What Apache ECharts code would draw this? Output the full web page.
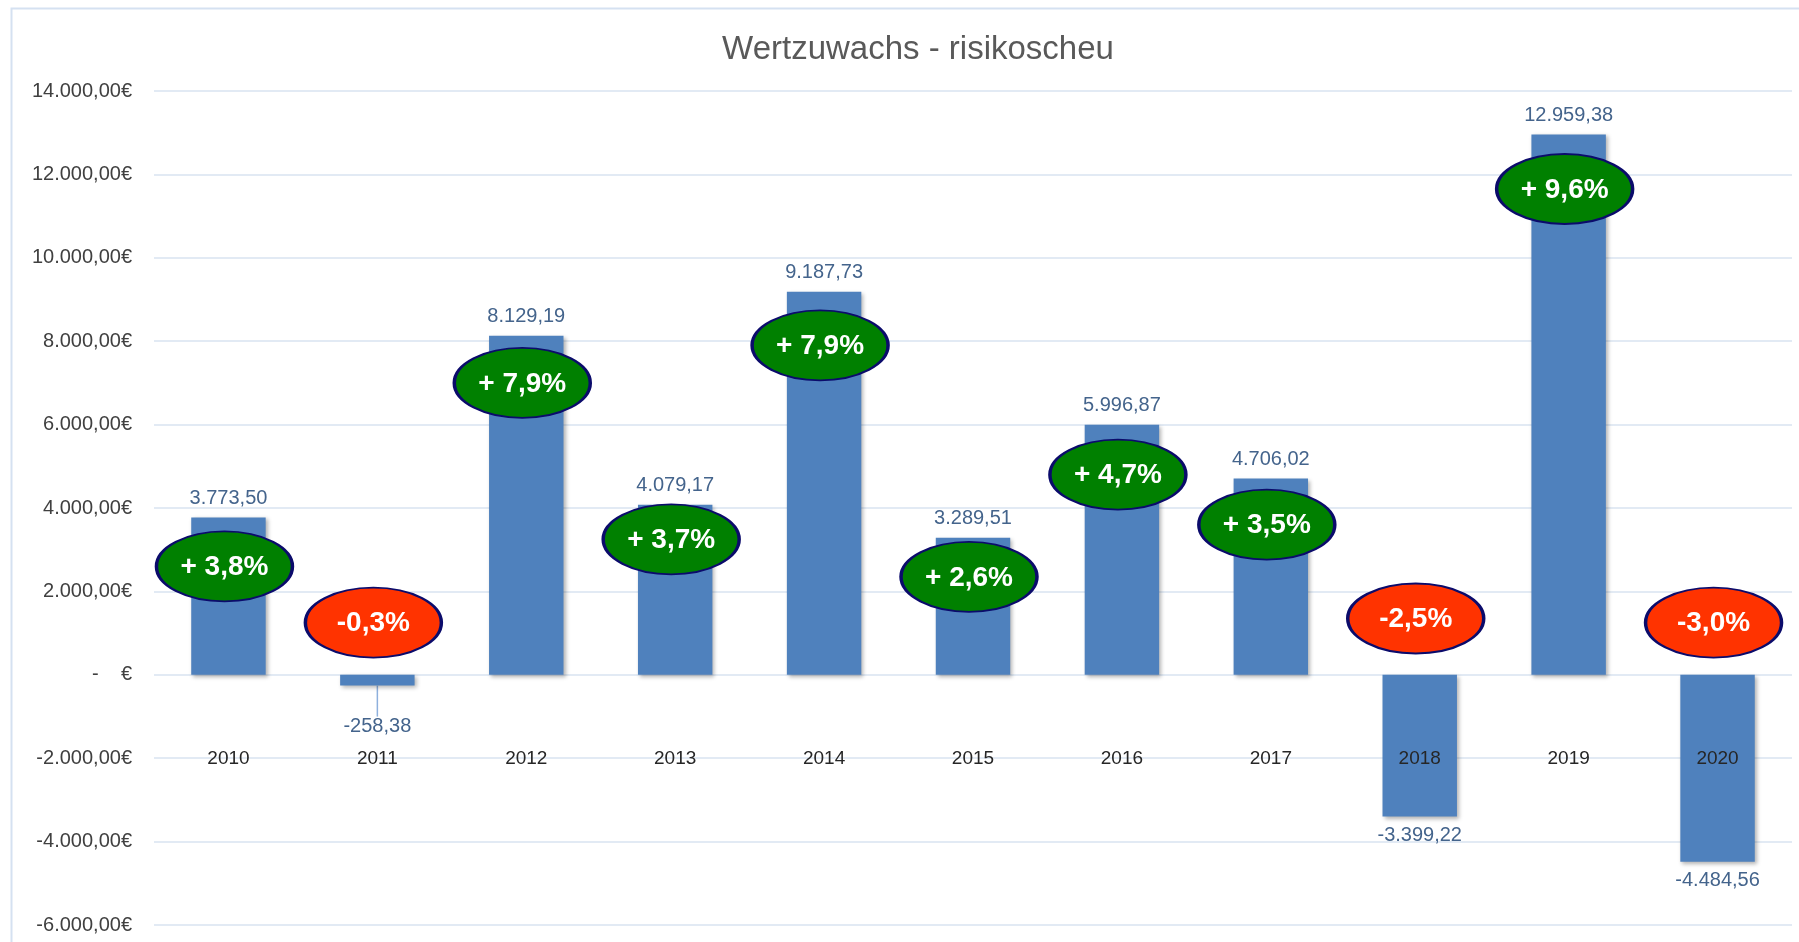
<!DOCTYPE html>
<html>
<head>
<meta charset="utf-8">
<title>Wertzuwachs - risikoscheu</title>
<script src="https://cdn.jsdelivr.net/npm/echarts@6/dist/echarts.min.js"></script>
<style>
  html, body { margin: 0; padding: 0; background: #fff; }
  #chart { width: 1799px; height: 942px; }
</style>
</head>
<body>
<div id="chart"></div>
<script>
const years = ['2010', '2011', '2012', '2013', '2014', '2015', '2016', '2017', '2018', '2019', '2020']
const gains = [3773.50, -258.38, 8129.19, 4079.17, 9187.73, 3289.51, 5996.87, 4706.02, -3399.22, 12959.38, -4484.56]
// yearly return in percent, shown in the ovals
const returns = [3.8, -0.3, 7.9, 3.7, 7.9, 2.6, 4.7, 3.5, -2.5, 9.6, -3.0]
// height (in €) where each oval sits
const badgeLevel = [2600, 1250, 7000, 3250, 7900, 2350, 4800, 3600, 1350, 11650, 1250]

// 1234.5 -> "1.234,50"
function de(v) {
  const parts = Math.abs(v).toFixed(2).split('.')
  const int = parts[0].replace(/\B(?=(\d{3})+(?!\d))/g, '.')
  return (v < 0 ? '-' : '') + int + ',' + parts[1]
}

function pct(p) {
  const s = Math.abs(p).toFixed(1).replace('.', ',')
  return p < 0 ? '-' + s + '%' : '+ ' + s + '%'
}

const chart = echarts.init(document.getElementById('chart'))
chart.setOption({
  animation: false,
  textStyle: { fontFamily: 'Liberation Sans' },
  title: {
    text: 'Wertzuwachs - risikoscheu',
    left: 913,
    top: 28,
    textAlign: 'center',
    textStyle: { color: '#595959', fontSize: 33, fontWeight: 'normal' }
  },
  graphic: [{
    type: 'rect',
    left: 9,
    top: 6,
    shape: { width: 1820, height: 960 },
    style: { fill: 'none', stroke: '#d5e1f1', lineWidth: 2 },
    silent: true
  }],
  grid: { left: 154, right: 7, top: 91, bottom: 17, outerBoundsMode: 'none', containLabel: false },
  xAxis: {
    type: 'category',
    data: years,
    z: 10,
    axisLine: { show: false },
    axisTick: { show: false },
    // labels sit on the -2.000 line, like in the sheet
    axisLabel: { color: '#262626', fontSize: 19, margin: -166, verticalAlign: 'middle' }
  },
  yAxis: {
    type: 'value',
    min: -6000,
    max: 14000,
    interval: 2000,
    axisLine: { show: false },
    axisTick: { show: false },
    splitLine: { lineStyle: { color: '#d9e3f1', width: 1.5 } },
    axisLabel: {
      color: '#404040',
      fontSize: 20,
      margin: 22,
      formatter: v => v === 0 ? '-    €' : de(v) + '€'
    }
  },
  series: [{
    type: 'bar',
    data: gains.map((v, i) => {
      const item = { value: v }
      if (v < 0) item.label = { position: 'bottom' }
      if (i === 1) item.labelLine = { show: true }
      return item
    }),
    barWidth: '50%',
    itemStyle: {
      color: '#4f81bd',
      shadowColor: 'rgba(0,0,0,0.3)',
      shadowBlur: 4,
      shadowOffsetX: 2,
      shadowOffsetY: 2
    },
    label: {
      show: true,
      position: 'top',
      distance: 9,
      color: '#44648c',
      fontSize: 20,
      formatter: p => de(p.value)
    },
    labelLine: { lineStyle: { color: '#8eb0dd', width: 1.5 } },
    labelLayout: p => p.dataIndex === 1 ? { dy: 22 } : {}
  }, {
    type: 'scatter',
    z: 5,
    symbol: 'circle',
    symbolSize: [136, 70],
    symbolOffset: [-4, 0],
    data: badgeLevel.map((y, i) => ({
      value: [i, y],
      itemStyle: { color: returns[i] < 0 ? '#ff3300' : '#008000' }
    })),
    itemStyle: { opacity: 1, borderColor: '#0b0b6b', borderWidth: 2.5 },
    label: {
      show: true,
      position: 'inside',
      color: '#fff',
      fontSize: 28,
      fontWeight: 'bold',
      offset: [0, 1],
      formatter: p => pct(returns[p.dataIndex])
    }
  }]
})
</script>
</body>
</html>
